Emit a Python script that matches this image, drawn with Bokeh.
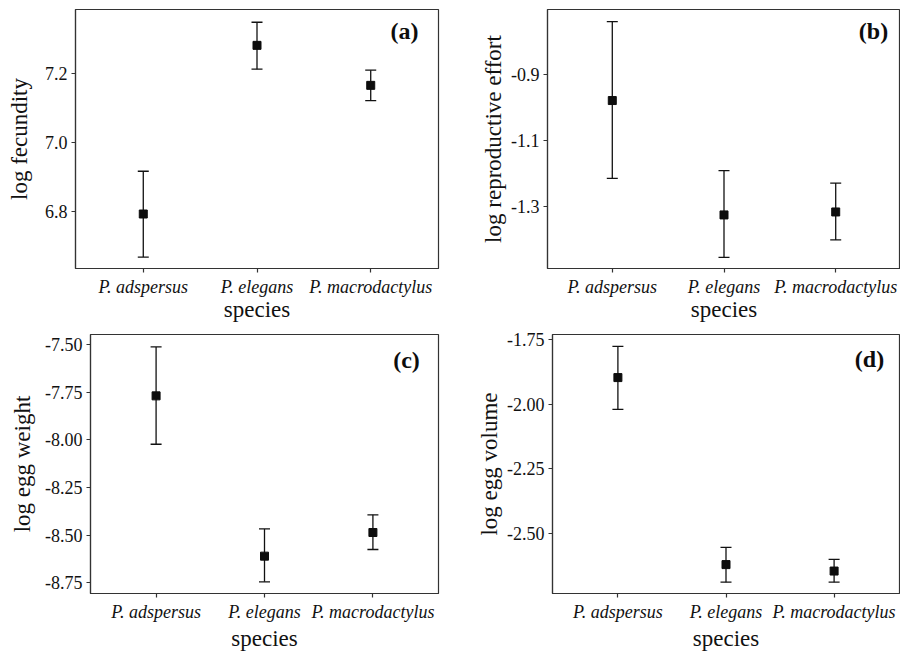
from bokeh.plotting import figure
from bokeh.layouts import column, row
from bokeh.models import (ColumnDataSource, FactorRange, FixedTicker, NumeralTickFormatter,
                          Whisker, TeeHead, Label, Range1d)
from bokeh.embed import file_html
from bokeh.resources import INLINE

# ---------------- data ----------------
species = ["P. adspersus", "P. elegans", "P. macrodactylus"]

fec_mean = [6.793, 7.282, 7.166]
fec_lo = [6.668, 7.213, 7.122]
fec_hi = [6.917, 7.349, 7.210]

re_mean = [-0.979, -1.327, -1.318]
re_lo = [-1.216, -1.456, -1.403]
re_hi = [-0.739, -1.192, -1.230]

ew_mean = [-7.769, -8.610, -8.486]
ew_lo = [-8.023, -8.745, -8.575]
ew_hi = [-7.512, -8.467, -8.393]

ev_mean = [-1.897, -2.622, -2.647]
ev_lo = [-2.020, -2.690, -2.690]
ev_hi = [-1.776, -2.555, -2.602]

ticks_a = [6.8, 7.0, 7.2]
ticks_b = [-1.3, -1.1, -0.9]
ticks_c = [-8.75, -8.50, -8.25, -8.00, -7.75, -7.50]
ticks_d = [-2.50, -2.25, -2.00, -1.75]

ylabels = ["log fecundity", "log reproductive effort", "log egg weight", "log egg volume"]
xlabel = "species"
panel_tags = ["(a)", "(b)", "(c)", "(d)"]

FONT = "Liberation Serif"
INK = "#111111"
AX = "#333333"


def panel(mean, lo, hi, yr, ticks, fmt, ylabel, tag, width, height, mb_left, mb_right,
          mb_top, mb_bottom, pad, ylab_standoff, xlab_standoff, tag_dx, tag_dy):
    p = figure(width=width, height=height, output_backend="svg", toolbar_location=None,
               x_range=FactorRange(factors=species, range_padding=pad,
                                   range_padding_units="absolute"),
               y_range=Range1d(*yr),
               min_border_left=mb_left, min_border_right=mb_right,
               min_border_top=mb_top, min_border_bottom=mb_bottom)
    p.xgrid.visible = False
    p.ygrid.visible = False
    p.outline_line_color = AX
    p.outline_line_width = 1.2
    p.background_fill_color = "white"
    p.border_fill_color = "white"

    src = ColumnDataSource(dict(x=species, m=mean, lo=lo, hi=hi))
    w = Whisker(base="x", upper="hi", lower="lo", source=src, dimension="height",
                line_color=INK, line_width=1.3,
                upper_head=TeeHead(size=11, line_color=INK, line_width=1.3),
                lower_head=TeeHead(size=11, line_color=INK, line_width=1.3))
    p.add_layout(w)
    p.scatter("x", "m", source=src, marker="square", size=8, color="#0d0d0d")

    for ax in (p.xaxis[0], p.yaxis[0]):
        ax.axis_line_color = AX
        ax.axis_line_width = 1.2
        ax.major_tick_line_color = AX
        ax.major_tick_line_width = 1.2
        ax.major_tick_out = 4
        ax.major_tick_in = 0
        ax.minor_tick_line_color = None
        ax.major_label_text_font = FONT
        ax.major_label_text_font_size = "18px"
        ax.major_label_text_color = INK
        ax.axis_label_text_font = FONT
        ax.axis_label_text_font_size = "23px"
        ax.axis_label_text_font_style = "normal"
        ax.axis_label_text_color = INK

    p.xaxis.major_label_text_font_style = "italic"
    p.xaxis.major_label_standoff = 4
    p.xaxis.axis_label = xlabel
    p.xaxis.axis_label_standoff = xlab_standoff

    p.yaxis.ticker = FixedTicker(ticks=ticks)
    p.yaxis.formatter = NumeralTickFormatter(format=fmt)
    p.yaxis.major_label_standoff = 4
    p.yaxis.axis_label = ylabel
    p.yaxis.axis_label_standoff = ylab_standoff

    xend = len(species) + pad
    lab = Label(x=xend, y=yr[1], x_offset=tag_dx, y_offset=tag_dy, text=tag,
                text_font=FONT, text_font_size="24px", text_font_style="bold",
                text_color="#0d0d0d", text_align="center", text_baseline="middle")
    p.add_layout(lab)
    return p


pa = panel(fec_mean, fec_lo, fec_hi, (6.635, 7.386), ticks_a, "0.0", ylabels[0], panel_tags[0],
           450, 328, 75, 12, 9, 60, 0.096, 10, -3, -34, -21)
pb = panel(re_mean, re_lo, re_hi, (-1.490, -0.702), ticks_b, "0.0", ylabels[1], panel_tags[1],
           450, 328, 97, 0, 9, 60, 0.08, 2, -3, -27, -21)
pc = panel(ew_mean, ew_lo, ew_hi, (-8.806, -7.447), ticks_c, "0.00", ylabels[2], panel_tags[2],
           450, 326, 90, 12, 6, 61, 0.105, 7, 1, -32, -25)
pd = panel(ev_mean, ev_lo, ev_hi, (-2.734, -1.730), ticks_d, "0.00", ylabels[3], panel_tags[3],
           450, 326, 102, 1, 6, 61, 0.105, 2, 1, -30, -24)

layout = column(row(pa, pb), row(pc, pd))
open("out.html", "w").write(file_html(layout, INLINE))
